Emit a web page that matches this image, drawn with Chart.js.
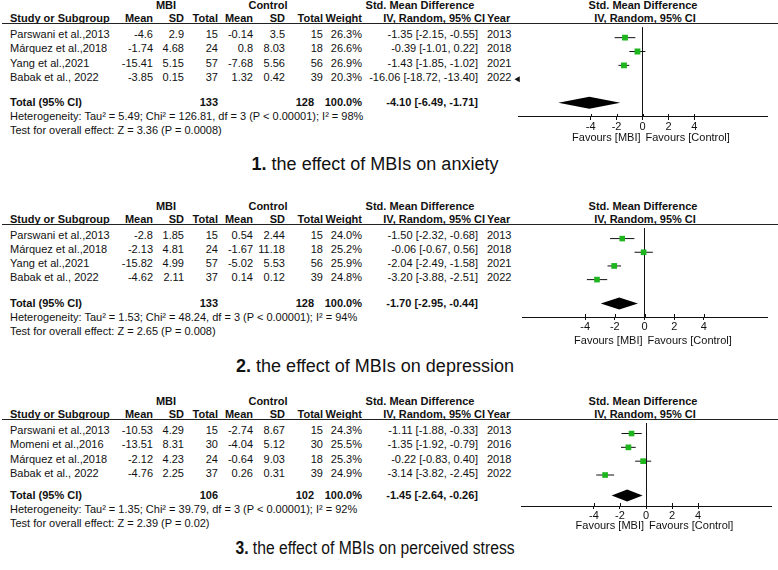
<!DOCTYPE html>
<html>
<head>
<meta charset="utf-8">
<script src="https://cdn.jsdelivr.net/npm/chart.js@4.4.1/dist/chart.umd.min.js"></script>
<style>
body { margin:0; background:#fff; }
#page { position:relative; width:778px; height:570px; overflow:hidden; font-family:"Liberation Sans", Arial, sans-serif; font-size:11px; color:#111; }
.t { position:absolute; white-space:nowrap; line-height:13px; }
.b { font-weight:bold; }
.rule { position:absolute; left:2px; width:776px; height:1px; background:#222; }
.plot { position:absolute; left:380px; width:398px; }
.cap { position:absolute; font-size:18px; line-height:22px; white-space:nowrap; }
</style>
</head>
<body>
<div id="page"></div>
<script>
// ---------- data ----------
var studies1 = ['Parswani et al.,2013', 'Márquez et al.,2018', 'Yang et al.,2021', 'Babak et al., 2022'];
var mbiMean1 = [-4.6, -1.74, -15.41, -3.85];
var mbiSd1 = [2.9, 4.68, 5.15, 0.15];
var mbiN1 = [15, 24, 57, 37];
var ctlMean1 = [-0.14, 0.8, -7.68, 1.32];
var ctlSd1 = [3.5, 8.03, 5.56, 0.42];
var ctlN1 = [15, 18, 56, 39];
var weight1 = [26.3, 26.6, 26.9, 20.3];
var smd1 = [-1.35, -0.39, -1.43, -16.06];
var ciLow1 = [-2.15, -1.01, -1.85, -18.72];
var ciHigh1 = [-0.55, 0.22, -1.02, -13.40];
var year1 = [2013, 2018, 2021, 2022];
var totals1 = [133, 128];
var pooled1 = [-4.10, -6.49, -1.71];
var notes1 = ['Heterogeneity: Tau² = 5.49; Chi² = 126.81, df = 3 (P < 0.00001); I² = 98%', 'Test for overall effect: Z = 3.36 (P = 0.0008)'];

var studies2 = ['Parswani et al.,2013', 'Márquez et al.,2018', 'Yang et al.,2021', 'Babak et al., 2022'];
var mbiMean2 = [-2.8, -2.13, -15.82, -4.62];
var mbiSd2 = [1.85, 4.81, 4.99, 2.11];
var mbiN2 = [15, 24, 57, 37];
var ctlMean2 = [0.54, -1.67, -5.02, 0.14];
var ctlSd2 = [2.44, 11.18, 5.53, 0.12];
var ctlN2 = [15, 18, 56, 39];
var weight2 = [24.0, 25.2, 25.9, 24.8];
var smd2 = [-1.50, -0.06, -2.04, -3.20];
var ciLow2 = [-2.32, -0.67, -2.49, -3.88];
var ciHigh2 = [-0.68, 0.56, -1.58, -2.51];
var year2 = [2013, 2018, 2021, 2022];
var totals2 = [133, 128];
var pooled2 = [-1.70, -2.95, -0.44];
var notes2 = ['Heterogeneity: Tau² = 1.53; Chi² = 48.24, df = 3 (P < 0.00001); I² = 94%', 'Test for overall effect: Z = 2.65 (P = 0.008)'];

var studies3 = ['Parswani et al.,2013', 'Momeni et al.,2016', 'Márquez et al.,2018', 'Babak et al., 2022'];
var mbiMean3 = [-10.53, -13.51, -2.12, -4.76];
var mbiSd3 = [4.29, 8.31, 4.23, 2.25];
var mbiN3 = [15, 30, 24, 37];
var ctlMean3 = [-2.74, -4.04, -0.64, 0.26];
var ctlSd3 = [8.67, 5.12, 9.03, 0.31];
var ctlN3 = [15, 30, 18, 39];
var weight3 = [24.3, 25.5, 25.3, 24.9];
var smd3 = [-1.11, -1.35, -0.22, -3.14];
var ciLow3 = [-1.88, -1.92, -0.83, -3.82];
var ciHigh3 = [-0.33, -0.79, 0.40, -2.45];
var year3 = [2013, 2016, 2018, 2022];
var totals3 = [106, 102];
var pooled3 = [-1.45, -2.64, -0.26];
var notes3 = ['Heterogeneity: Tau² = 1.35; Chi² = 39.79, df = 3 (P < 0.00001); I² = 92%', 'Test for overall effect: Z = 2.39 (P = 0.02)'];

var captions = ['the effect of MBIs on anxiety', 'the effect of MBIs on depression', 'the effect of MBIs on perceived stress'];
var groupHeads = ['MBI', 'Control', 'Std. Mean Difference'];
var colHeads = ['Study or Subgroup', 'Mean', 'SD', 'Total', 'Mean', 'SD', 'Total', 'Weight', 'IV, Random, 95% CI', 'Year'];
var tickValues = [-4, -2, 0, 2, 4];
var favourLabels = ['Favours [MBI]', 'Favours [Control]'];

// ---------- layout ----------
var colX = [10, 153, 184, 218, 253, 285, 323, 362, 478, 487];
var headX = [10, 153, 184, 218, 253, 285, 323, 362, 485, 487];
var totalX = [218, 314];
var groupX = [166, 268, 420];

var layout = [
  {lineY: 23, row0: 34, step: 14.5, totalY: 102, hetY: 116, testY: 130, axisY: 117, capY: 164, axisLeft: 518, axisRight: 767, xMin: -9.6, xMax: 9.6, fav: 21, capScale: 1},
  {lineY: 224, row0: 235, step: 14.3, totalY: 303, hetY: 317, testY: 331, axisY: 317, capY: 366, axisLeft: 522, axisRight: 767, xMin: -8.25, xMax: 8.25, fav: 24, capScale: 1},
  {lineY: 419, row0: 430, step: 14.5, totalY: 495, hetY: 509, testY: 523, axisY: 506, capY: 548, axisLeft: 521, axisRight: 771, xMin: -9.6, xMax: 9.6, fav: 20, capScale: 0.87}
];

var panels = [
  {studies: studies1, cols: [mbiMean1, mbiSd1, mbiN1, ctlMean1, ctlSd1, ctlN1], weight: weight1, smd: smd1, lo: ciLow1, hi: ciHigh1, year: year1, totals: totals1, pooled: pooled1, notes: notes1},
  {studies: studies2, cols: [mbiMean2, mbiSd2, mbiN2, ctlMean2, ctlSd2, ctlN2], weight: weight2, smd: smd2, lo: ciLow2, hi: ciHigh2, year: year2, totals: totals2, pooled: pooled2, notes: notes2},
  {studies: studies3, cols: [mbiMean3, mbiSd3, mbiN3, ctlMean3, ctlSd3, ctlN3], weight: weight3, smd: smd3, lo: ciLow3, hi: ciHigh3, year: year3, totals: totals3, pooled: pooled3, notes: notes3}
];

var page = document.getElementById('page');

function put(text, x, y, align, bold) {
  var d = document.createElement('div');
  d.className = 't' + (bold ? ' b' : '');
  d.textContent = text;
  d.style.left = x + 'px';
  d.style.top = (y - 6.5) + 'px';
  if (align == 'right') d.style.transform = 'translateX(-100%)';
  if (align == 'center') d.style.transform = 'translateX(-50%)';
  page.appendChild(d);
}

function ciText(v, lo, hi) {
  return v.toFixed(2) + ' [' + lo.toFixed(2) + ', ' + hi.toFixed(2) + ']';
}

function drawTable(p, L, k) {
  var hy = L.lineY - 18, cy = L.lineY - 4.5;
  put(groupHeads[0], groupX[0], hy, 'center', true);
  put(groupHeads[1], groupX[1], hy, 'center', true);
  put(groupHeads[2], groupX[2], hy, 'center', true);
  put(groupHeads[2], 643, hy, 'center', true);
  put(colHeads[8], 645, cy, 'center', true);
  for (var c = 0; c < colHeads.length; c++) {
    put(colHeads[c], headX[c], cy, (c == 0 || c == 9) ? 'left' : 'right', true);
  }
  var rule = document.createElement('div');
  rule.className = 'rule';
  rule.style.top = L.lineY + 'px';
  page.appendChild(rule);

  for (var i = 0; i < p.studies.length; i++) {
    var y = L.row0 + i * L.step;
    put(p.studies[i], colX[0], y, 'left');
    for (var j = 0; j < 6; j++) put(String(p.cols[j][i]), colX[j + 1], y, 'right');
    put(p.weight[i].toFixed(1) + '%', colX[7], y, 'right');
    put(ciText(p.smd[i], p.lo[i], p.hi[i]), colX[8], y, 'right');
    put(String(p.year[i]), colX[9], y, 'left');
  }
  put('Total (95% CI)', colX[0], L.totalY, 'left', true);
  put(String(p.totals[0]), totalX[0], L.totalY, 'right', true);
  put(String(p.totals[1]), totalX[1], L.totalY, 'right', true);
  put('100.0%', colX[7], L.totalY, 'right', true);
  put(ciText(p.pooled[0], p.pooled[1], p.pooled[2]), colX[8], L.totalY, 'right', true);
  put(p.notes[0], colX[0], L.hetY, 'left');
  put(p.notes[1], colX[0], L.testY, 'left');

  var cap = document.createElement('div');
  cap.className = 'cap';
  cap.innerHTML = '<b>' + (k + 1) + '.</b> ' + captions[k];
  cap.style.left = '375px';
  cap.style.top = (L.capY - 11) + 'px';
  cap.style.transform = 'translateX(-50%) scaleX(' + L.capScale + ')';
  page.appendChild(cap);
}

function drawForest(p, L) {
  var holder = document.createElement('div');
  holder.className = 'plot';
  holder.style.top = L.lineY + 'px';
  holder.style.height = (L.axisY - L.lineY + 16 + 30) + 'px';
  var cv = document.createElement('canvas');
  holder.appendChild(cv);
  page.appendChild(holder);

  var yMin = -(L.row0 - L.lineY) / L.step;
  var yMax = (L.axisY - L.row0) / L.step;
  var totalRow = (L.totalY - L.row0) / L.step;

  var squares = {
    label: 'SMD',
    data: p.smd.map(function(v, i) { return {x: v, y: i}; }),
    pointStyle: 'rect',
    pointRadius: p.weight.map(function(w) { return 0.8 * Math.sqrt(w); }),
    backgroundColor: '#1fb51f',
    borderWidth: 0,
    order: 0
  };
  // studies whose whole interval lies left of the axis get an arrow at its edge
  var offscale = [];
  p.smd.forEach(function(v, i) { if (p.hi[i] < L.xMin) offscale.push({x: L.xMin, y: i}); });
  var arrows = {
    label: 'off scale',
    data: offscale,
    pointStyle: 'triangle',
    rotation: -90,
    pointRadius: 3.5,
    backgroundColor: '#111',
    borderWidth: 0,
    clip: false,
    order: 0
  };
  var whiskers = p.smd.map(function(v, i) {
    return {
      label: 'CI ' + i,
      data: [{x: p.lo[i], y: i}, {x: p.hi[i], y: i}],
      showLine: true,
      borderColor: '#111',
      borderWidth: 1,
      pointRadius: 0,
      order: 1
    };
  });

  var pooledPlugin = {
    id: 'pooled',
    afterDatasetsDraw: function(chart) {
      var x = chart.scales.x, y = chart.scales.y, ctx = chart.ctx;
      var cy = y.getPixelForValue(totalRow);
      ctx.save();
      ctx.fillStyle = '#000';
      ctx.beginPath();
      ctx.moveTo(x.getPixelForValue(p.pooled[1]), cy);
      ctx.lineTo(x.getPixelForValue(p.pooled[0]), cy - 6);
      ctx.lineTo(x.getPixelForValue(p.pooled[2]), cy);
      ctx.lineTo(x.getPixelForValue(p.pooled[0]), cy + 6);
      ctx.closePath();
      ctx.fill();
      // tick marks also poke above the axis line
      var ab = chart.chartArea.bottom;
      ctx.strokeStyle = '#111';
      ctx.lineWidth = 1;
      x.ticks.forEach(function(t) {
        var px = Math.round(x.getPixelForValue(t.value)) + 0.5;
        ctx.beginPath();
        ctx.moveTo(px, ab - 3);
        ctx.lineTo(px, ab);
        ctx.stroke();
      });
      var zx = x.getPixelForValue(0), fy = ab + L.fav;
      ctx.font = '11px "Liberation Sans", Arial, sans-serif';
      ctx.fillStyle = '#111';
      ctx.textBaseline = 'middle';
      ctx.textAlign = 'right';
      ctx.fillText(favourLabels[0], zx - 2, fy);
      ctx.textAlign = 'left';
      ctx.fillText(favourLabels[1], zx + 3, fy);
      ctx.restore();
    }
  };

  new Chart(cv, {
    type: 'scatter',
    data: {datasets: [squares, arrows].concat(whiskers)},
    options: {
      animation: false,
      responsive: true,
      maintainAspectRatio: false,
      layout: {padding: {left: L.axisLeft - 380, right: 778 - L.axisRight, top: 0, bottom: 30}},
      plugins: {legend: {display: false}, tooltip: {enabled: false}},
      scales: {
        x: {
          type: 'linear', min: L.xMin, max: L.xMax,
          afterBuildTicks: function(ax) { ax.ticks = tickValues.map(function(v) { return {value: v}; }); },
          grid: {
            drawOnChartArea: true,
            color: function(c) { return (c.tick && c.tick.value === 0) ? '#111' : 'rgba(0,0,0,0)'; },
            tickColor: '#111', tickLength: 3, lineWidth: 1
          },
          border: {display: true, color: '#111', width: 1},
          ticks: {
            color: '#111', padding: 1, maxRotation: 0, autoSkip: false,
            font: {size: 11, family: '"Liberation Sans", Arial, sans-serif', lineHeight: 1},
            callback: function(v) { return String(v); }
          }
        },
        y: {type: 'linear', display: false, reverse: true, min: yMin, max: yMax}
      }
    },
    plugins: [pooledPlugin]
  });
}

for (var k = 0; k < 3; k++) {
  drawTable(panels[k], layout[k], k);
  drawForest(panels[k], layout[k]);
}
</script>
</body>
</html>
